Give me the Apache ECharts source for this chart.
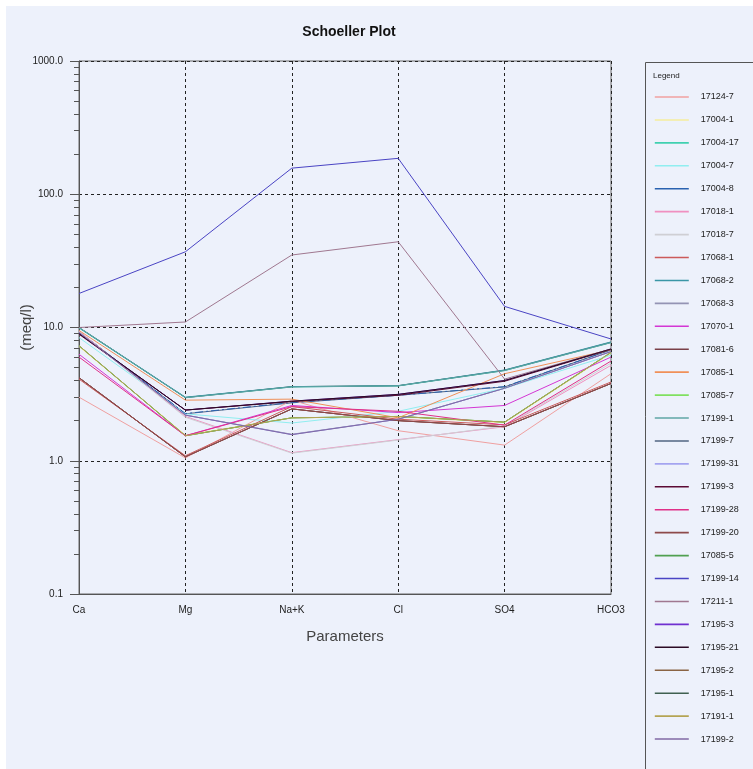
<!DOCTYPE html>
<html>
<head>
<meta charset="utf-8">
<title>Schoeller Plot</title>
<script src="https://cdn.jsdelivr.net/npm/echarts@6/dist/echarts.min.js"></script>
<style>
  html, body { margin: 0; padding: 0; background: #ffffff; }
  #chart { position: absolute; left: 6px; top: 6px; width: 747px; height: 763px; }
</style>
</head>
<body>
<div id="chart"></div>
<script>
// Major ions on the x axis, concentrations in meq/l on a log y axis
const parameters = ['Ca', 'Mg', 'Na+K', 'Cl', 'SO4', 'HCO3'];
const yTicks = [0.1, 1, 10, 100, 1000];

// Sample ids, in legend order
const samples = [
  '17124-7', '17004-1', '17004-17', '17004-7', '17004-8', '17018-1', '17018-7',
  '17068-1', '17068-2', '17068-3', '17070-1', '17081-6', '17085-1', '17085-7',
  '17199-1', '17199-7', '17199-31', '17199-3', '17199-28', '17199-20', '17085-5',
  '17199-14', '17211-1', '17195-3', '17195-21', '17195-2', '17195-1', '17191-1',
  '17199-2'
];

const sampleColors = [
  '#f0a0a0', '#f4ec9c', '#40d0b0', '#90eef0', '#2a62b0', '#f090c0', '#cfcfd4',
  '#cc5a5a', '#3a96a6', '#9494b4', '#d436d4', '#7a4048', '#f09058', '#80e060',
  '#5fa6a6', '#506482', '#a4a4f0', '#5c0a34', '#e03088', '#8e4a4a', '#50a050',
  '#4a44c4', '#a07890', '#7030d0', '#2c0a24', '#8a6444', '#3f6050', '#b4a454',
  '#8068a4'
];

// Values per sample: Ca, Mg, Na+K, Cl, SO4, HCO3 (meq/l)
const v17124_7  = [3.0, 1.05, 2.85, 1.68, 1.31, 4.5];
const v17004_1  = [7.2, 1.56, 2.1, 2.14, 1.93, 6.4];
const v17004_17 = [9.9, 2.98, 3.58, 3.64, 4.75, 7.7];
const v17004_7  = [8.4, 2.25, 1.92, 2.35, 3.5, 6.2];
const v17004_8  = [9.3, 2.26, 2.74, 3.1, 3.6, 6.8];
const v17018_1  = [9.4, 2.15, 1.15, 1.44, 1.8, 5.2];
const v17018_7  = [9.3, 2.12, 1.14, 1.43, 1.82, 5.4];
const v17068_1  = [4.1, 1.09, 2.55, 2.05, 1.86, 3.9];
const v17068_2  = [10.0, 3.0, 3.6, 3.66, 4.8, 7.8];
const v17068_3  = [9.2, 2.2, 1.58, 2.05, 3.5, 6.6];
const v17070_1  = [6.3, 1.54, 2.6, 2.3, 2.6, 6.0];
const v17081_6  = [4.2, 1.07, 2.45, 2.0, 1.8, 3.8];
const v17085_1  = [9.5, 2.85, 2.9, 2.1, 4.5, 6.8];
const v17085_7  = [7.3, 1.54, 2.1, 2.15, 1.95, 6.5];
const v17199_1  = [10.0, 2.97, 3.58, 3.65, 4.75, 7.7];
const v17199_7  = [9.3, 2.25, 2.72, 3.1, 3.58, 6.8];
const v17199_31 = [9.2, 2.2, 1.57, 2.05, 3.5, 6.6];
const v17199_3  = [8.9, 2.4, 2.78, 3.1, 3.95, 6.85];
const v17199_28 = [6.0, 1.54, 2.55, 2.35, 1.85, 5.6];
const v17199_20 = [4.2, 1.07, 2.45, 2.0, 1.8, 3.8];
const v17085_5  = [7.3, 1.54, 2.1, 2.15, 1.95, 6.5];
const v17199_14 = [18.0, 37.0, 157.0, 186.0, 14.4, 8.2];
const v17211_1  = [10.0, 11.0, 35.0, 44.0, 4.1, 6.9];
const v17195_3  = [9.0, 2.4, 2.8, 3.15, 4.0, 6.9];
const v17195_21 = [9.0, 2.4, 2.8, 3.15, 4.0, 6.9];
const v17195_2  = [4.2, 1.07, 2.45, 2.0, 1.8, 3.8];
const v17195_1  = [10.0, 2.98, 3.6, 3.66, 4.78, 7.75];
const v17191_1  = [7.3, 1.54, 2.1, 2.15, 1.95, 6.5];
const v17199_2  = [9.2, 2.2, 1.57, 2.05, 3.5, 6.6];

const sampleValues = [
  v17124_7, v17004_1, v17004_17, v17004_7, v17004_8, v17018_1, v17018_7,
  v17068_1, v17068_2, v17068_3, v17070_1, v17081_6, v17085_1, v17085_7,
  v17199_1, v17199_7, v17199_31, v17199_3, v17199_28, v17199_20, v17085_5,
  v17199_14, v17211_1, v17195_3, v17195_21, v17195_2, v17195_1, v17191_1,
  v17199_2
];

// Lines that sit underneath others are drawn first
const lowerZ = new Set(['17004-1', '17004-17', '17199-7', '17199-31', '17085-5',
  '17195-3', '17195-2', '17195-1', '17085-7', '17068-3']);

const FONT = '"Liberation Sans", Arial, sans-serif';
const BG = '#edf1fb';

const chart = echarts.init(document.getElementById('chart'), null, { renderer: 'canvas' });

const series = samples.map((name, i) => ({
  name: name,
  type: 'line',
  data: sampleValues[i],
  symbol: 'none',
  z: lowerZ.has(name) ? 2 : 3,
  lineStyle: {
    color: sampleColors[i],
    width: 1,
    type: name === '17004-8' ? [8, 3, 2, 3] : 'solid'
  },
  itemStyle: { color: sampleColors[i] },
  emphasis: { disabled: true },
  animation: false
}));

chart.setOption({
  backgroundColor: BG,
  animation: false,
  title: {
    text: 'Schoeller Plot',
    left: 338,
    top: 14,
    textAlign: 'center',
    textStyle: { fontFamily: FONT, fontSize: 14, fontWeight: 'bold', color: '#111' }
  },
  grid: {
    left: 73, top: 55, width: 532, height: 533,
    outerBoundsMode: 'none',
    containLabel: false,
    show: true, borderColor: '#666', borderWidth: 1, backgroundColor: 'transparent'
  },
  xAxis: {
    type: 'category',
    data: parameters,
    boundaryGap: false,
    name: 'Parameters',
    nameLocation: 'middle',
    nameGap: 35,
    nameMoveOverlap: false,
    nameTextStyle: { fontFamily: FONT, fontSize: 15, color: '#444' },
    axisLine: { lineStyle: { color: '#555' } },
    axisTick: { show: false },
    axisLabel: { fontFamily: FONT, fontSize: 10, color: '#222', margin: 11 },
    splitLine: { show: true, lineStyle: { color: '#222', type: [3, 3], width: 1 } }
  },
  yAxis: {
    type: 'log',
    logBase: 10,
    min: yTicks[0],
    max: yTicks[yTicks.length - 1],
    name: '(meq/l)',
    nameLocation: 'middle',
    nameRotate: 90,
    nameGap: 45,
    nameMoveOverlap: false,
    nameTextStyle: { fontFamily: FONT, fontSize: 15, color: '#444' },
    axisLine: { show: true, lineStyle: { color: '#555' } },
    axisTick: { show: true, length: 9, lineStyle: { color: '#555' } },
    minorTick: { show: true, splitNumber: 9, length: 5, lineStyle: { color: '#555' } },
    axisLabel: {
      fontFamily: FONT, fontSize: 10, color: '#222', margin: 16,
      formatter: v => Number(v).toFixed(1)
    },
    splitLine: { show: true, lineStyle: { color: '#222', type: [3, 3], width: 1 } }
  },
  legend: {
    data: samples,
    orient: 'vertical',
    left: 648,
    top: 85,
    padding: 0,
    itemWidth: 34,
    itemHeight: 12,
    itemGap: 10.93,
    selectedMode: false,
    itemStyle: { opacity: 0, borderWidth: 0 },
    lineStyle: { type: 'solid', width: 1.6 },
    textStyle: { fontFamily: FONT, fontSize: 9, color: '#222', lineHeight: 12, padding: [0, 0, 0, 7] }
  },
  graphic: [
    {
      type: 'rect',
      z: -1,
      shape: { x: 639.5, y: 56.5, width: 140, height: 740 },
      style: { fill: BG, stroke: '#555', lineWidth: 1 }
    },
    {
      type: 'text',
      left: 647,
      top: 66,
      style: { text: 'Legend', font: '8px ' + FONT, fill: '#222' }
    }
  ],
  series: series
});
</script>
</body>
</html>
